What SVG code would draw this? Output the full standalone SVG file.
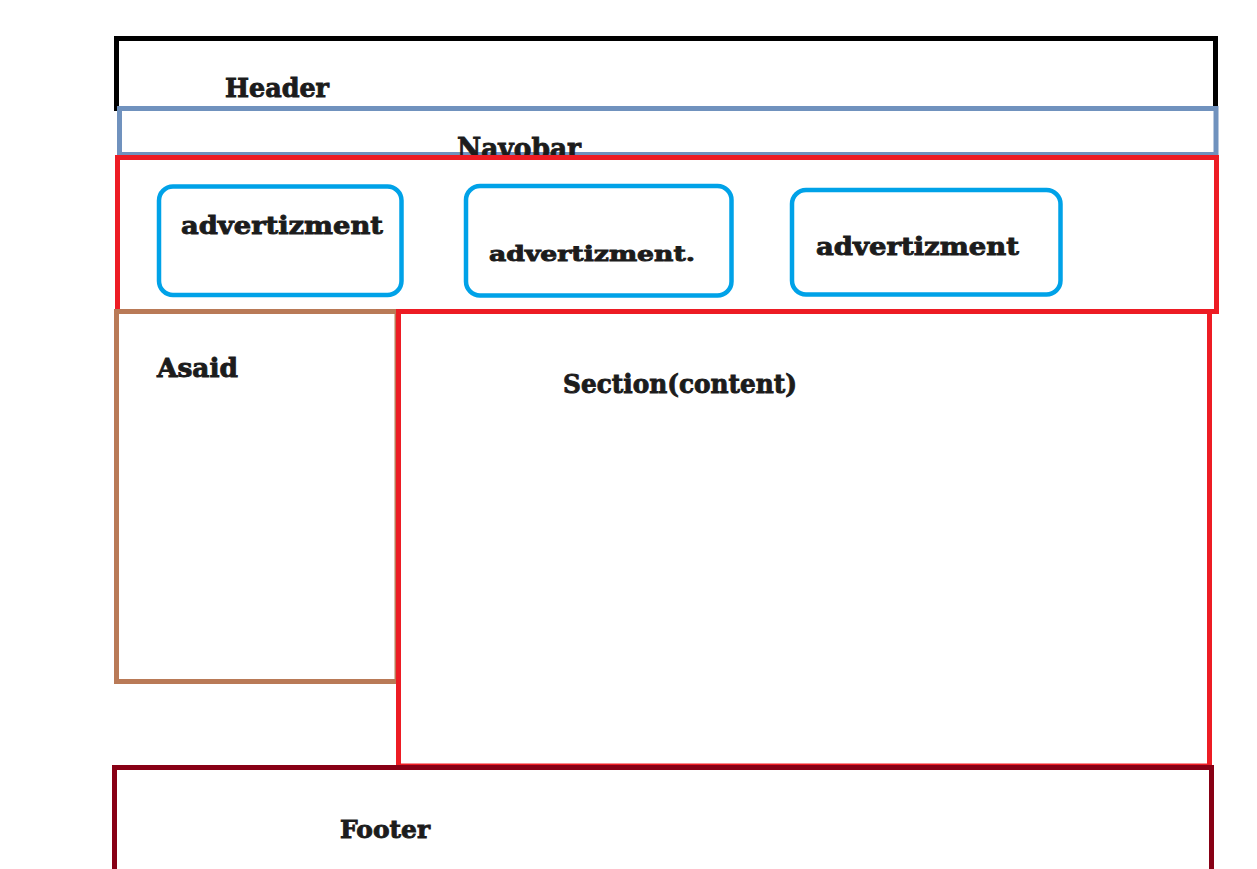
<svg xmlns="http://www.w3.org/2000/svg" width="1257" height="869" viewBox="0 0 1257 869">
<style>
.box{fill:none;stroke-width:5}
.hdr{stroke:#000000}
.nav{stroke:#7092be}
.red{stroke:#ed1c24}
.ad{fill:none;stroke:#00a2e8;stroke-width:4.5}
.asd{stroke:#b97a57}
.ftr{stroke:#880015}
.t{font-family:"DejaVu Serif","Liberation Serif",serif;font-weight:bold;fill:#1c1c1c;stroke:#1c1c1c;stroke-width:0.9}
</style>
<rect x="0" y="0" width="1257" height="869" fill="#ffffff"/>
<g id="header">
<rect class="box hdr" x="116.5" y="38.5" width="1099" height="70"/>
<text class="t" x="225" y="97" font-size="26" textLength="104" lengthAdjust="spacingAndGlyphs">Header</text>
</g>
<g id="navbar">
<rect class="box nav" x="119.5" y="108.5" width="1096.5" height="46"/>
<text class="t" x="457" y="158" font-size="28" textLength="124" lengthAdjust="spacingAndGlyphs">Navobar</text>
</g>
<g id="ads">
<rect class="box red" x="117.5" y="157.5" width="1099" height="154"/>
</g>
<g id="ad1">
<rect class="ad" x="159" y="186.5" width="242.5" height="108.5" rx="14"/>
<text class="t" x="181" y="234" font-size="25" textLength="202" lengthAdjust="spacingAndGlyphs">advertizment</text>
</g>
<g id="ad2">
<rect class="ad" x="466" y="186" width="265.5" height="109.5" rx="14"/>
<text class="t" x="489" y="261" font-size="21" textLength="206" lengthAdjust="spacingAndGlyphs">advertizment.</text>
</g>
<g id="ad3">
<rect class="ad" x="792" y="190" width="268.5" height="104.5" rx="14"/>
<text class="t" x="816" y="255" font-size="25" textLength="203" lengthAdjust="spacingAndGlyphs">advertizment</text>
</g>
<g id="aside">
<rect class="box asd" x="116.5" y="311.5" width="280.5" height="370"/>
<text class="t" x="157" y="377" font-size="26" textLength="81" lengthAdjust="spacingAndGlyphs">Asaid</text>
</g>
<g id="section">
<rect class="box red" x="398.5" y="311.5" width="811" height="454.5"/>
<text class="t" x="563" y="393" font-size="26" textLength="234" lengthAdjust="spacingAndGlyphs">Section(content)</text>
</g>
<g id="footer">
<path class="box ftr" d="M114.5,875 V767.5 H1211.5 V875"/>
<text class="t" x="340" y="838" font-size="25" textLength="90" lengthAdjust="spacingAndGlyphs">Footer</text>
</g>
<g id="connectors"></g>
</svg>
